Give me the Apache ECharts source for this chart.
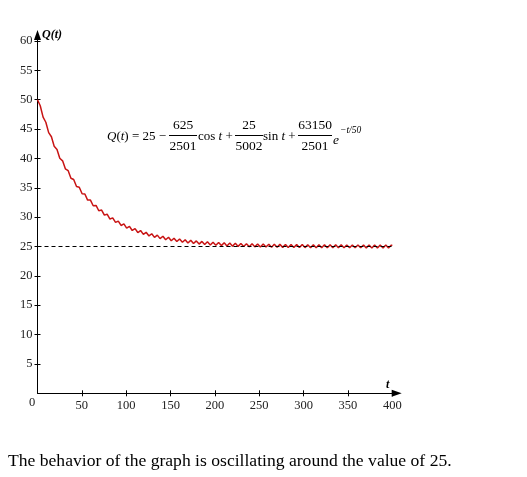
<!DOCTYPE html>
<html>
<head>
<meta charset="utf-8">
<script src="https://cdn.jsdelivr.net/npm/echarts@6/dist/echarts.min.js"></script>
<style>
html,body{margin:0;padding:0;background:#fff;}
#c{width:527px;height:477px;}
</style>
</head>
<body>
<div id="c"></div>
<script>
// t values (sampled at the peaks/troughs of the oscillation)
const tValues = [0,3.1,6.3,9.4,12.6,15.7,18.8,22.0,25.1,28.3,31.4,34.6,37.7,40.8,44.0,47.1,50.3,53.4,56.5,59.7,
62.8,66.0,69.1,72.3,75.4,78.5,81.7,84.8,88.0,91.1,94.2,97.4,100.5,103.7,106.8,110.0,113.1,116.2,119.4,122.5,
125.7,128.8,131.9,135.1,138.2,141.4,144.5,147.7,150.8,153.9,157.1,160.2,163.4,166.5,169.6,172.8,175.9,179.1,182.2,185.4,
188.5,191.6,194.8,197.9,201.1,204.2,207.3,210.5,213.6,216.8,219.9,223.1,226.2,229.3,232.5,235.6,238.8,241.9,245.0,248.2,
251.3,254.5,257.6,260.8,263.9,267.0,270.2,273.3,276.5,279.6,282.7,285.9,289.0,292.2,295.3,298.5,301.6,304.7,307.9,311.0,
314.2,317.3,320.4,323.6,326.7,329.9,333.0,336.2,339.3,342.4,345.6,348.7,351.9,355.0,358.1,361.3,364.4,367.6,370.7,373.8,
377.0,380.1,383.3,386.4,389.6,392.7,395.8,399.0,400];
// Q(t) values
const qValues = [50.00,48.96,47.02,46.16,44.39,43.69,42.07,41.51,40.02,39.59,38.22,37.90,36.63,36.41,35.23,35.09,33.99,33.93,32.90,32.90,
31.94,32.00,31.09,31.20,30.34,30.50,29.68,29.88,29.10,29.33,28.58,28.85,28.13,28.43,27.73,28.05,27.38,27.72,27.07,27.43,
26.80,27.17,26.55,26.94,26.34,26.74,26.15,26.57,25.99,26.41,25.84,26.27,25.71,26.15,25.60,26.05,25.50,25.95,25.41,25.87,
25.33,25.80,25.26,25.73,25.20,25.68,25.15,25.63,25.10,25.58,25.06,25.54,25.02,25.51,24.99,25.48,24.96,25.45,24.94,25.43,
24.92,25.41,24.90,25.39,24.88,25.37,24.86,25.36,24.85,25.34,24.84,25.33,24.83,25.32,24.82,25.32,24.81,25.31,24.80,25.30,
24.80,25.29,24.79,25.29,24.79,25.28,24.78,25.28,24.78,25.28,24.78,25.27,24.77,25.27,24.77,25.27,24.77,25.27,24.76,25.26,
24.76,25.26,24.76,25.26,24.76,25.26,24.76,25.26,25.14];
const xTicks = [50,100,150,200,250,300,350,400];
const yTicks = [5,10,15,20,25,30,35,40,45,50,55,60];
const equilibrium = 25;

const serif = 'Liberation Serif';
const seriesData = tValues.map((t, i) => [t, qValues[i]]);

const chart = echarts.init(document.getElementById('c'), null, {renderer: 'canvas'});

const richStyle = {
  i: {fontStyle:'italic', fontFamily:serif, fontSize:13, fill:'#000'},
  n: {fontFamily:serif, fontSize:13, fill:'#000'}
};

const graphics = [
  // formula
  {type:'text', x:107, y:137, style:{rich:richStyle, text:'{i|Q}{n|(}{i|t}{n|) = 25 −}', textVerticalAlign:'middle'}},
  {type:'text', x:198, y:137, style:{rich:richStyle, text:'{n|cos }{i|t}{n| +}', textVerticalAlign:'middle'}},
  {type:'text', x:263, y:137, style:{rich:richStyle, text:'{n|sin }{i|t}{n| +}', textVerticalAlign:'middle'}},
  {type:'text', x:333, y:140, style:{text:'e', font:'italic 13.5px ' + serif, fill:'#000', textVerticalAlign:'middle'}},
  {type:'text', x:340, y:130, style:{text:'−t/50', font:'italic 9.5px ' + serif, fill:'#000', textVerticalAlign:'middle'}},
  // axis names
  {type:'text', x:42, y:35, style:{text:'Q(t)', font:'italic bold 12px ' + serif, fill:'#000', textVerticalAlign:'middle'}},
  {type:'text', x:386, y:385, style:{text:'t', font:'italic bold 12px ' + serif, fill:'#000', textVerticalAlign:'middle'}},
  {type:'text', x:32, y:403, style:{text:'0', font:'12.5px ' + serif, fill:'#222', textAlign:'center', textVerticalAlign:'middle'}},
  // caption
  {type:'text', x:8, y:461, style:{text:'The behavior of the graph is oscillating around the value of 25.', font:'17.6px ' + serif, fill:'#000', textVerticalAlign:'middle'}}
];
// fractions
[[183,'625','2501',14],[249,'25','5002',14],[315,'63150','2501',17]].forEach(f => {
  const cx = f[0], half = f[3];
  graphics.push({type:'text', x:cx, y:125, style:{text:f[1], font:'13.5px ' + serif, fill:'#000', textAlign:'center', textVerticalAlign:'middle'}});
  graphics.push({type:'line', shape:{x1:cx-half, y1:135.5, x2:cx+half, y2:135.5}, style:{stroke:'#000', lineWidth:1}});
  graphics.push({type:'text', x:cx, y:146, style:{text:f[2], font:'13.5px ' + serif, fill:'#000', textAlign:'center', textVerticalAlign:'middle'}});
});

const labelStyle = {fontFamily: serif, fontSize: 12.5, color: '#222'};

chart.setOption({
  animation: false,
  backgroundColor: '#fff',
  grid: {left: 37.5, right: 130.3, top: 35.1, bottom: 83.7},
  xAxis: [
    {type:'value', min:0, max:405, position:'bottom',
     axisLine:{show:true, onZero:false, symbol:['none','triangle'], symbolSize:[7,10], lineStyle:{color:'#000', width:1}},
     axisTick:{show:true, length:3, customValues:xTicks, lineStyle:{color:'#000'}},
     axisLabel:Object.assign({margin:6, customValues:xTicks}, labelStyle),
     splitLine:{show:false}},
    {type:'value', min:0, max:405, position:'bottom',
     axisLine:{show:false},
     axisTick:{show:true, inside:true, length:3, customValues:xTicks, lineStyle:{color:'#000'}},
     axisLabel:{show:false}, splitLine:{show:false}}
  ],
  yAxis: [
    {type:'value', min:0, max:61, position:'left',
     axisLine:{show:true, onZero:false, symbol:['none','triangle'], symbolSize:[7,10], lineStyle:{color:'#000', width:1}},
     axisTick:{show:true, length:3, customValues:yTicks, lineStyle:{color:'#000'}},
     axisLabel:Object.assign({margin:5, customValues:yTicks}, labelStyle),
     splitLine:{show:false}},
    {type:'value', min:0, max:61, position:'left',
     axisLine:{show:false},
     axisTick:{show:true, inside:true, length:3, customValues:yTicks, lineStyle:{color:'#000'}},
     axisLabel:{show:false}, splitLine:{show:false}}
  ],
  series: [{
    type:'line', xAxisIndex:0, yAxisIndex:0, data: seriesData, showSymbol:false, symbol:'none',
    lineStyle:{color:'#c81414', width:1.5}, silent:true,
    markLine:{silent:true, symbol:['none','none'], label:{show:false},
      lineStyle:{color:'#000', type:[4,3], width:1},
      data:[[{coord:[0, equilibrium]}, {coord:[400, equilibrium]}]]}
  }],
  graphic: graphics
});
</script>
</body>
</html>
